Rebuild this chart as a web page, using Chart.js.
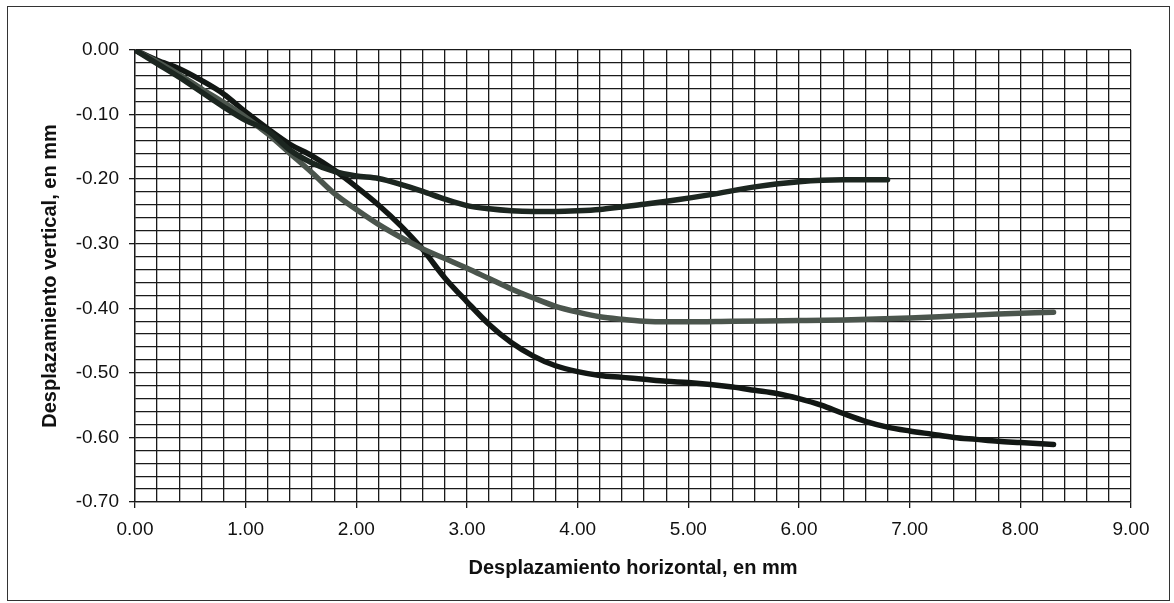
<!DOCTYPE html>
<html>
<head>
<meta charset="utf-8">
<script src="https://cdn.jsdelivr.net/npm/chart.js@4.4.1/dist/chart.umd.min.js"></script>
<style>
    html, body { margin: 0; padding: 0; background: #fff; }
    #wrap { position: relative; width: 1174px; height: 603px; }
    #frame {
        position: absolute; left: 7px; top: 6px; width: 1161px; height: 593px;
        border: 1.5px solid #333; pointer-events: none;
    }
    canvas { position: absolute; left: 0; top: 0; }
</style>
</head>
<body>
<div id="wrap">
    <canvas id="dispChart" width="1174" height="603"></canvas>
    <div id="frame"></div>
</div>
<script>
// Ensayo 1 (upper curve, stops at 6.8 mm)
const xA = [0, 0.2, 0.4, 0.6, 0.8, 1.0, 1.2, 1.4, 1.6, 1.8, 2.0, 2.2, 2.4, 2.6, 2.8, 3.0, 3.2, 3.4, 3.6, 3.8, 4.0, 4.2, 4.4, 4.6, 4.9, 5.2, 5.6, 6.0, 6.4, 6.8];
const yA = [0, -0.021, -0.042, -0.065, -0.088, -0.109, -0.125, -0.155, -0.175, -0.188, -0.195, -0.199, -0.208, -0.219, -0.231, -0.241, -0.246, -0.249, -0.250, -0.250, -0.249, -0.247, -0.243, -0.239, -0.232, -0.224, -0.212, -0.204, -0.201, -0.201];

// Ensayo 2 (grey curve)
const xB = [0, 0.2, 0.4, 0.6, 0.8, 1.0, 1.2, 1.4, 1.6, 1.8, 2.0, 2.2, 2.4, 2.6, 2.8, 3.0, 3.2, 3.4, 3.6, 3.8, 4.0, 4.2, 4.4, 4.6, 4.8, 5.0, 5.4, 6.0, 6.4, 7.0, 7.4, 7.8, 8.3];
const yB = [0, -0.018, -0.038, -0.060, -0.081, -0.104, -0.130, -0.160, -0.190, -0.222, -0.247, -0.270, -0.290, -0.308, -0.323, -0.338, -0.354, -0.370, -0.384, -0.397, -0.406, -0.413, -0.417, -0.420, -0.421, -0.421, -0.420, -0.419, -0.418, -0.415, -0.412, -0.409, -0.406];

// Ensayo 3 (lower curve)
const xC = [0, 0.2, 0.4, 0.6, 0.8, 1.0, 1.2, 1.4, 1.6, 1.8, 2.0, 2.2, 2.4, 2.6, 2.8, 3.0, 3.2, 3.4, 3.6, 3.8, 4.0, 4.2, 4.4, 4.6, 4.8, 5.0, 5.2, 5.4, 5.6, 5.8, 6.0, 6.2, 6.4, 6.6, 6.8, 7.0, 7.2, 7.4, 7.6, 7.8, 8.0, 8.3];
const yC = [0, -0.016, -0.029, -0.047, -0.068, -0.096, -0.122, -0.146, -0.164, -0.186, -0.212, -0.240, -0.272, -0.309, -0.353, -0.390, -0.425, -0.453, -0.474, -0.489, -0.498, -0.504, -0.507, -0.510, -0.513, -0.515, -0.518, -0.522, -0.527, -0.532, -0.540, -0.550, -0.563, -0.575, -0.584, -0.590, -0.595, -0.600, -0.603, -0.606, -0.608, -0.611];

// Axis ranges and grid steps
const xMin = 0, xMax = 9, xMinor = 0.2;
const yMin = -0.7, yMax = 0, yMinor = 0.02;

const pts = (xs, ys) => xs.map((x, i) => ({ x: x, y: ys[i] }));
const isMultiple = (v, step) => Math.abs(v / step - Math.round(v / step)) < 1e-6;

const lineStyle = (color) => ({
    showLine: true,
    borderColor: color,
    borderWidth: 5.5,
    borderCapStyle: 'round',
    borderJoinStyle: 'round',
    pointRadius: 0,
    cubicInterpolationMode: 'monotone',
    fill: false
});

const tickFont = { family: 'Liberation Sans, Arial, sans-serif', size: 19 };
const titleFont = { family: 'Liberation Sans, Arial, sans-serif', size: 20, weight: 'bold' };

const ctx = document.getElementById('dispChart').getContext('2d');
new Chart(ctx, {
    type: 'scatter',
    data: {
        datasets: [
            { data: pts(xA, yA), ...lineStyle('#1c2620') },
            { data: pts(xB, yB), ...lineStyle('#4b554d') },
            { data: pts(xC, yC), ...lineStyle('#121714') }
        ]
    },
    options: {
        responsive: false,
        animation: false,
        layout: { padding: { top: 50, right: 43, left: 35, bottom: 19 } },
        plugins: { legend: { display: false }, tooltip: { enabled: false } },
        scales: {
            x: {
                type: 'linear',
                min: xMin, max: xMax,
                afterFit: (s) => { s.height = 603 - 19 - 502; },
                ticks: {
                    stepSize: xMinor,
                    autoSkip: false,
                    maxRotation: 0,
                    color: '#111',
                    font: tickFont,
                    padding: 10,
                    callback: (v) => isMultiple(v, 1) ? v.toFixed(2) : ''
                },
                grid: {
                    color: '#1a1a1a',
                    lineWidth: 1.3,
                    tickLength: 6,
                    tickColor: (c) => isMultiple(c.tick.value, 1) ? '#1a1a1a' : 'rgba(0,0,0,0)'
                },
                border: { color: '#1a1a1a', width: 1.3 },
                title: {
                    display: true,
                    text: 'Desplazamiento horizontal, en mm',
                    color: '#111',
                    font: titleFont,
                    padding: { top: 4, bottom: 4 }
                }
            },
            y: {
                type: 'linear',
                min: yMin, max: yMax,
                afterFit: (s) => { s.width = 135 - 35; },
                ticks: {
                    stepSize: yMinor,
                    autoSkip: false,
                    color: '#111',
                    font: tickFont,
                    padding: 10,
                    callback: (v) => isMultiple(v, 0.1) ? v.toFixed(2) : ''
                },
                grid: {
                    color: '#1a1a1a',
                    lineWidth: 1.3,
                    tickLength: 6,
                    tickColor: (c) => isMultiple(c.tick.value, 0.1) ? '#1a1a1a' : 'rgba(0,0,0,0)'
                },
                border: { color: '#1a1a1a', width: 1.3 },
                title: {
                    display: true,
                    text: 'Desplazamiento vertical, en mm',
                    color: '#111',
                    font: titleFont,
                    padding: { top: 3, bottom: 4 }
                }
            }
        }
    }
});
</script>
</body>
</html>
